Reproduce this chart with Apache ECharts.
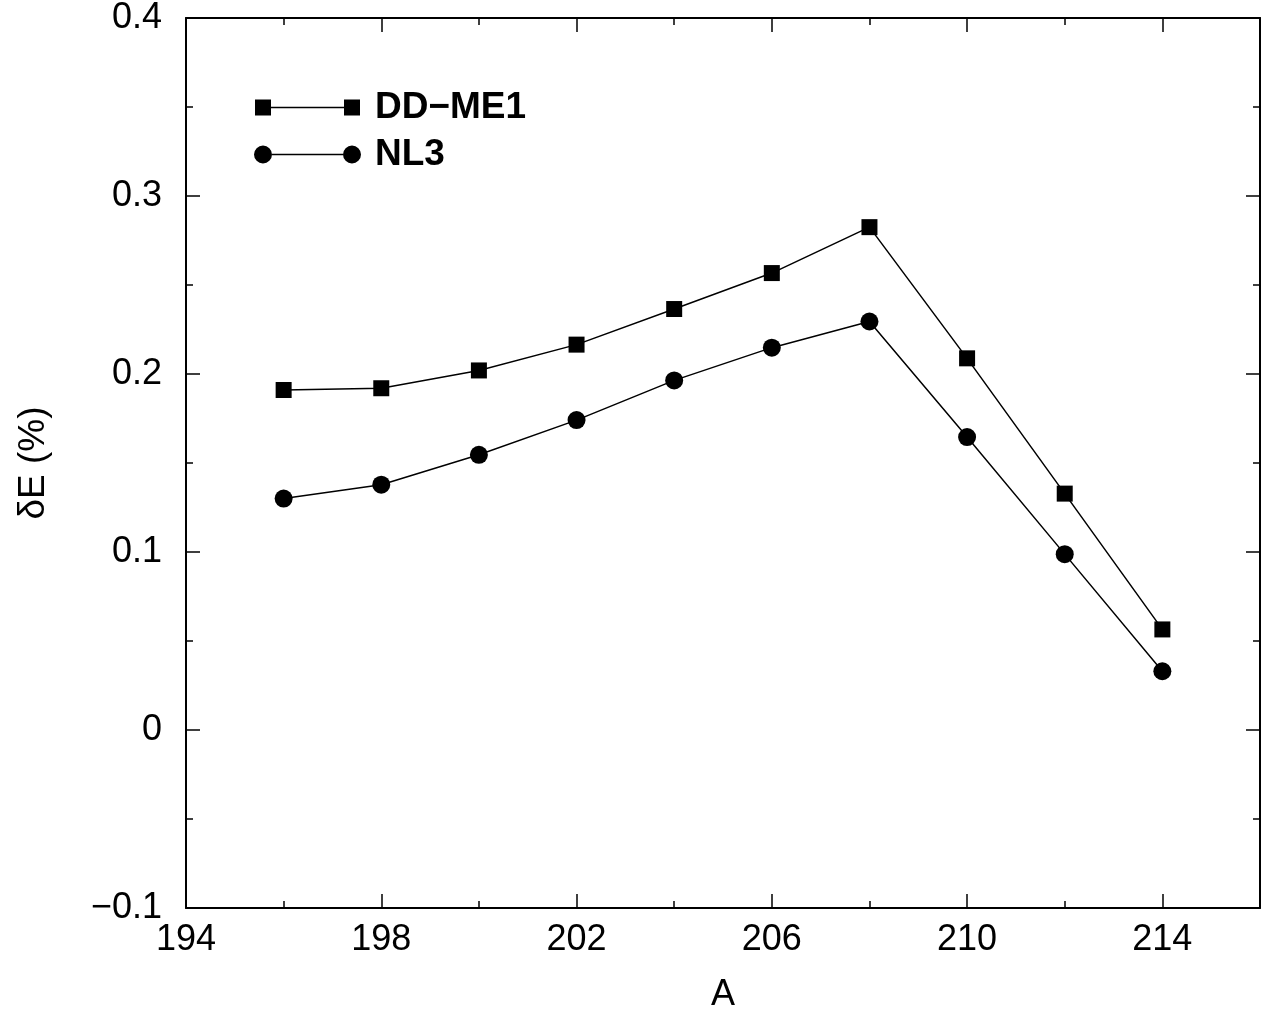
<!DOCTYPE html>
<html><head><meta charset="utf-8">
<script src="https://cdn.jsdelivr.net/npm/echarts@6/dist/echarts.min.js"></script>
<style>html,body{margin:0;padding:0;background:#fff;overflow:hidden}#c{width:100vw;height:100vh}</style>
</head><body><div id="c"></div>
<script>
const massNumbers = [196, 198, 200, 202, 204, 206, 208, 210, 212, 214];
const ddme1 = [0.191, 0.192, 0.202, 0.2165, 0.2365, 0.2567, 0.2825, 0.2088, 0.1328, 0.0565];
const nl3 = [0.130, 0.1378, 0.1546, 0.1741, 0.1964, 0.2148, 0.2295, 0.1646, 0.0988, 0.0330];
const seriesNames = ['DD\u2212ME1', 'NL3'];

const FONT = 'Liberation Sans, Arial, sans-serif';
const chart = echarts.init(document.getElementById('c'));
const fmtY = v => { const r = Math.round(v * 10) / 10; if (Math.abs(r) < 1e-9) return '0'; return r < 0 ? '\u2212' + Math.abs(r).toFixed(1) : r.toFixed(1); };
const fmtX = v => (v === 216 ? '' : String(v));
const line = { show: true, onZero: false, lineStyle: { color: '#000', width: 2 } };
const noLine = { show: false, onZero: false };
function xa(pos, interval, len, labels, name) {
  return {
    type: 'value', position: pos, min: 194, max: 216, interval: interval,
    axisLine: len === 14 ? line : noLine,
    axisTick: { show: true, inside: true, length: len, lineStyle: { color: '#000', width: 1.5 } },
    axisLabel: labels ? { show: true, formatter: fmtX, color: '#000', fontSize: 36, fontFamily: FONT, margin: 14 } : { show: false },
    splitLine: { show: false },
    name: name || '', nameLocation: 'middle', nameGap: 69,
    nameTextStyle: { color: '#000', fontSize: 36, fontFamily: FONT }
  };
}
function ya(pos, interval, len, labels, name) {
  return {
    type: 'value', position: pos, min: -0.1, max: 0.4, interval: interval,
    axisLine: len === 14 ? line : noLine,
    axisTick: { show: true, inside: true, length: len, lineStyle: { color: '#000', width: 1.5 } },
    axisLabel: labels ? { show: true, formatter: fmtY, color: '#000', fontSize: 36, fontFamily: FONT, margin: 24 } : { show: false },
    splitLine: { show: false },
    name: name || '', nameLocation: 'middle', nameGap: 134, nameRotate: 90,
    nameTextStyle: { color: '#000', fontSize: 37, fontFamily: FONT }
  };
}
const sqIcon = 'path://M0,0 H16 V16 H0 Z M16,7.25 H89 V8.75 H16 Z M89,0 H105 V16 H89 Z';
const ciIcon = 'path://M0,9 A9,9 0 1,1 18,9 A9,9 0 1,1 0,9 Z M18,8.25 H89 V9.75 H18 Z M89,9 A9,9 0 1,1 107,9 A9,9 0 1,1 89,9 Z';
chart.setOption({
  animation: false,
  backgroundColor: '#fff',
  grid: { left: 186, right: 11, top: 17, bottom: 105 },
  xAxis: [xa('bottom', 4, 14, true, 'A'), xa('bottom', 2, 7, false), xa('top', 4, 14, false), xa('top', 2, 7, false)],
  yAxis: [ya('left', 0.1, 14, true, '\u03b4E (%)'), ya('left', 0.05, 7, false), ya('right', 0.1, 14, false), ya('right', 0.05, 7, false)],
  legend: [
    { data: [{ name: seriesNames[0], icon: sqIcon }], left: 255, top: 89, padding: 0, itemWidth: 105, itemHeight: 16, itemGap: 0,
      textStyle: { color: '#000', fontSize: 37, fontWeight: 'bold', fontFamily: FONT, padding: [0, 0, 0, 10] } },
    { data: [{ name: seriesNames[1], icon: ciIcon }], left: 254, top: 136, padding: 0, itemWidth: 107, itemHeight: 18, itemGap: 0,
      textStyle: { color: '#000', fontSize: 37, fontWeight: 'bold', fontFamily: FONT, padding: [0, 0, 0, 9] } }
  ],
  series: [
    { name: seriesNames[0], type: 'line', data: massNumbers.map((a, i) => [a, ddme1[i]]),
      symbol: 'rect', symbolSize: 16, itemStyle: { color: '#000' }, lineStyle: { color: '#000', width: 1.5 } },
    { name: seriesNames[1], type: 'line', data: massNumbers.map((a, i) => [a, nl3[i]]),
      symbol: 'circle', symbolSize: 18, itemStyle: { color: '#000' }, lineStyle: { color: '#000', width: 1.5 } }
  ]
});
</script></body></html>
